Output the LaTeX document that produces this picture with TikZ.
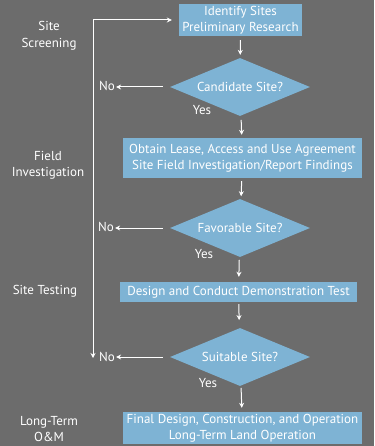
\documentclass[tikz,border=0pt]{standalone}
\usepackage{fontspec}
\setmainfont{PT Sans}
\usetikzlibrary{arrows.meta,shapes.geometric}
\definecolor{bggray}{RGB}{108,108,108}
\definecolor{boxblue}{RGB}{126,179,212}
\tikzset{>={Stealth[length=5pt,width=5pt]}}
\tikzset{
  stepbox/.style={fill=boxblue,text=white,align=center,inner sep=0pt,font=\fontsize{13}{16}\selectfont},
  question/.style={diamond,aspect=2.6,fill=boxblue,text=white,inner sep=0pt,minimum width=140pt,minimum height=58pt,font=\fontsize{13}{14}\selectfont},
  answer/.style={text=white,inner sep=1pt,font=\fontsize{13}{14}\selectfont},
  stage/.style={text=white,align=center,inner sep=0pt,font=\fontsize{13}{16.5}\selectfont},
  flow/.style={draw=white,line width=1pt,->}
}

\begin{document}
\begin{tikzpicture}[x=1pt,y=-1pt]
\fill[bggray] (0,0) rectangle (374,446);
\useasboundingbox (0,0) rectangle (374,446);

\node[stepbox,minimum width=123pt,minimum height=32pt] (identify) at (240.5,20) {Identify Sites\\Preliminary Research};
\node[question] (candidate) at (240,87) {Candidate Site?};
\node[stepbox,minimum width=239pt,minimum height=40pt] (field) at (242.5,158) {Obtain Lease, Access and Use Agreement\\Site Field Investigation/Report Findings};
\node[question] (favorable) at (240,228) {Favorable Site?};
\node[stepbox,minimum width=237pt,minimum height=20pt] (demo) at (238.5,292) {Design and Conduct Demonstration Test};
\node[question] (suitable) at (240,357) {Suitable Site?};
\node[stepbox,minimum width=239pt,minimum height=32pt] (final) at (242.5,428) {Final Design, Construction, and Operation\\Long-Term Land Operation};

\node[answer] (no1) at (107,86) {No};
\node[answer] (no2) at (106,227) {No};
\node[answer] (no3) at (107,357) {No};
\node[answer] (yes1) at (202,110) {Yes};
\node[answer] (yes2) at (204,254) {Yes};
\node[answer] (yes3) at (208,383) {Yes};

\node[stage] (screening) at (49,36) {Site\\Screening};
\node[stage] (investigation) at (48,165.5) {Field\\Investigation};
\node[stage] (testing) at (45,291) {Site Testing};
\node[stage] (longterm) at (49,429) {Long-Term\\O\&M};

\draw[flow,shorten <=4pt,shorten >=3pt] (identify) -- (candidate);
\draw[flow,shorten <=4pt,shorten >=3pt] (candidate) -- (field);
\draw[flow,shorten <=3pt,shorten >=3pt] (field) -- (favorable);
\draw[flow,shorten <=3pt,shorten >=5pt] (favorable) -- (demo);
\draw[flow,shorten <=2pt,shorten >=8pt] (demo) -- (suitable);
\draw[flow,shorten <=2pt,shorten >=4pt] (suitable) -- (final);

\foreach \q/\n in {candidate/no1,favorable/no2,suitable/no3}
  \draw[flow,shorten <=7pt] (\q.west) -- (\n.east |- \q.west);

\coordinate (back) at (93,358);
\draw[flow,<->,shorten >=7pt] (back) |- (identify.west);
\end{tikzpicture}
\end{document}
